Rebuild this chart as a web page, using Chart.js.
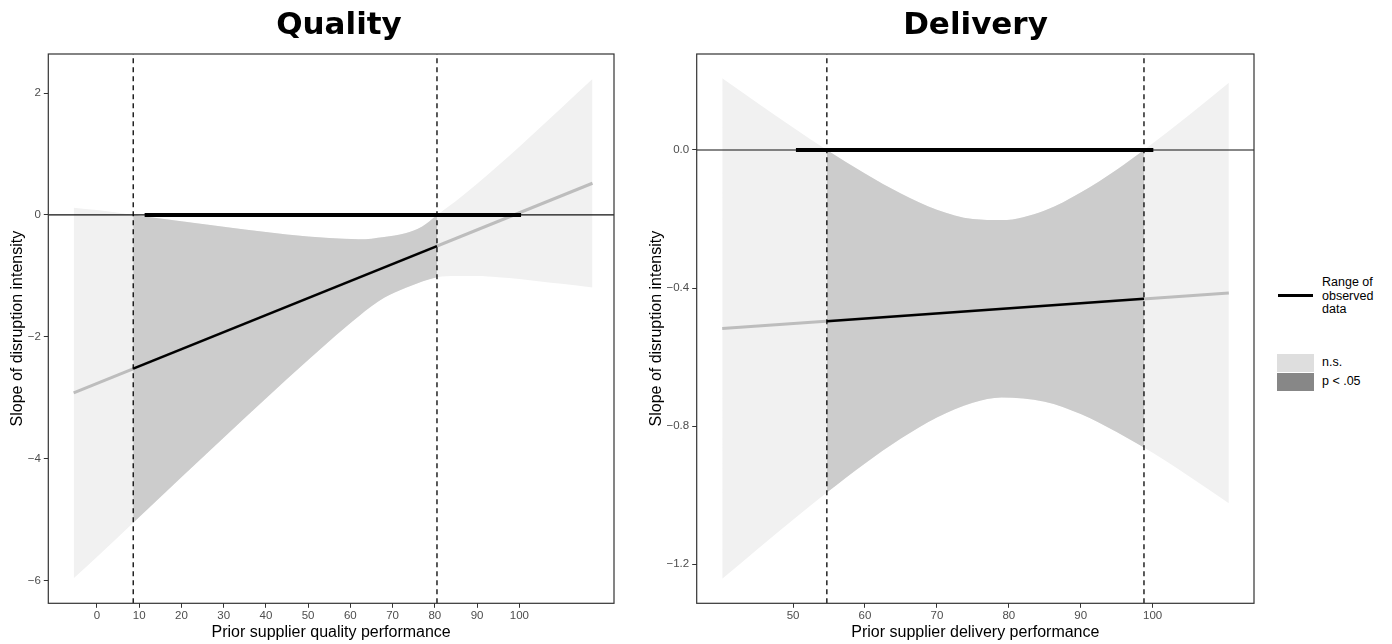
<!DOCTYPE html>
<html>
<head>
<meta charset="utf-8">
<title>Quality / Delivery</title>
<script src="https://cdn.jsdelivr.net/npm/chart.js@4.4.1/dist/chart.umd.min.js"></script>
<style>
  body { margin: 0; background: #fff; width: 1392px; height: 644px; overflow: hidden; position: relative;
         font-family: "Liberation Sans", Arial, sans-serif; }
  canvas { position: absolute; top: 0; }
  #grafico-quality { left: 0; }
  #grafico-delivery { left: 640px; }
  .titulo { position: absolute; top: 5px; width: 300px; margin-left: -150px; text-align: center;
            font: bold 31px "DejaVu Sans", Verdana, sans-serif; line-height: 37.2px; color: #000; }
  .ley { position: absolute; }
  .ley-texto { position: absolute; left: 1322px; font-size: 12.5px; line-height: 13.5px; color: #000; }
</style>
</head>
<body>
<canvas id="grafico-quality" width="630" height="644"></canvas>
<canvas id="grafico-delivery" width="630" height="644"></canvas>
<div class="titulo" style="left:339px;">Quality</div>
<div class="titulo" style="left:975.5px;">Delivery</div>

<div class="ley" style="left:1278px; top:293.5px; width:35px; height:3.5px; background:#000;"></div>
<div class="ley-texto" style="top:276px;">Range of<br>observed<br>data</div>
<div class="ley" style="left:1277px; top:354px; width:37px; height:18px; background:#dedede;"></div>
<div class="ley" style="left:1277px; top:373px; width:37px; height:18px; background:#878787;"></div>
<div class="ley-texto" style="top:356px;">n.s.</div>
<div class="ley-texto" style="top:375px;">p &lt; .05</div>

<script>
// Quality: banda de confianza
const qX     = [-5.5, 0, 8.6, 15, 25, 35, 45, 55, 62, 68, 73, 77, 80.5, 85, 90, 95, 100, 105, 110, 117.3];
const qUpper = [0.12, 0.08, 0, -0.06, -0.15, -0.24, -0.32, -0.38, -0.40, -0.36, -0.30, -0.19, 0, 0.23, 0.51, 0.81, 1.12, 1.44, 1.76, 2.23];
const qLower = [-5.96, -5.61, -5.05, -4.63, -3.98, -3.33, -2.69, -2.07, -1.66, -1.36, -1.20, -1.09, -1.02, -1.00, -1.00, -1.02, -1.05, -1.09, -1.13, -1.19];
const qFitX = [-5.5, 117.3];
const qFitY = [-2.92, 0.52];
const qJN = [8.6, 80.5];
const qSigY = [-2.52, -0.51];
const qRange = [11.3, 100.4];
const qXTicks = [0, 10, 20, 30, 40, 50, 60, 70, 80, 90, 100];
const qYTicks = [-6, -4, -2, 0, 2];
const qXLim = [-11.5, 122.4];
const qYLim = [-6.37, 2.64];

// Delivery
const dX     = [40.15, 45, 50, 54.7, 60, 65, 70, 75, 79, 85, 90, 95, 98.8, 105, 110.6];
const dUpper = [0.208, 0.137, 0.065, 0, -0.068, -0.126, -0.173, -0.200, -0.203, -0.175, -0.123, -0.057, 0, 0.100, 0.195];
const dLower = [-1.242, -1.157, -1.071, -0.992, -0.908, -0.836, -0.775, -0.732, -0.717, -0.729, -0.765, -0.817, -0.862, -0.944, -1.023];
const dFitX = [40.15, 110.6];
const dFitY = [-0.517, -0.414];
const dJN = [54.7, 98.8];
const dSigY = [-0.496, -0.431];
const dRange = [50.4, 100.1];
const dXTicks = [50, 60, 70, 80, 90, 100];
const dYTicks = [-1.2, -0.8, -0.4, 0];
const dXLim = [36.6, 114.1];
const dYLim = [-1.313, 0.278];

const FUENTE = '"Liberation Sans", Arial, sans-serif';

function pts(xs, ys) {
  return xs.map((x, i) => ({ x: x, y: ys[i] }));
}

function entre(xs, ys, lim) {
  return pts(xs, ys).filter(p => p.x >= lim[0] && p.x <= lim[1]);
}

// marco del panel (como panel.border de ggplot)
const marco = {
  id: 'marco',
  afterDatasetsDraw(chart) {
    const { ctx, chartArea: a } = chart;
    ctx.save();
    ctx.strokeStyle = '#333';
    ctx.lineWidth = 1.2;
    ctx.strokeRect(a.left, a.top, a.right - a.left, a.bottom - a.top);
    ctx.restore();
  }
};

function crearPanel(id, p) {
  const sinBorde = 'rgba(0,0,0,0)';
  const datasets = [
    { data: pts(p.x, p.upper), fill: '+1', backgroundColor: '#f1f1f1', borderColor: sinBorde, borderWidth: 0, cubicInterpolationMode: 'monotone', order: 10 },
    { data: pts(p.x, p.lower), fill: false, borderColor: sinBorde, borderWidth: 0, cubicInterpolationMode: 'monotone', order: 10 },
    { data: entre(p.x, p.upper, p.jn), fill: '+1', backgroundColor: '#cccccc', borderColor: sinBorde, borderWidth: 0, cubicInterpolationMode: 'monotone', order: 9 },
    { data: entre(p.x, p.lower, p.jn), fill: false, borderColor: sinBorde, borderWidth: 0, cubicInterpolationMode: 'monotone', order: 9 },
    { data: pts(p.fitX, p.fitY), borderColor: '#bdbdbd', borderWidth: 3, order: 8 },
    { data: pts(p.jn, p.sigY), borderColor: '#000', borderWidth: 2.5, order: 7 },
    { data: pts(p.xLim, [0, 0]), borderColor: '#111', borderWidth: 1.2, order: 6 },
    { data: pts(p.range, [0, 0]), borderColor: '#000', borderWidth: 4, order: 5 },
    { data: pts([p.jn[0], p.jn[0]], p.yLim), borderColor: '#000', borderWidth: 1.3, borderDash: [5, 4], order: 4 },
    { data: pts([p.jn[1], p.jn[1]], p.yLim), borderColor: '#000', borderWidth: 1.3, borderDash: [5, 4], order: 4 }
  ];

  const etiqueta = v => (v < 0 ? '\u2212' : '') + Math.abs(v).toFixed(p.decimales);

  return new Chart(document.getElementById(id), {
    type: 'line',
    data: { datasets: datasets },
    options: {
      responsive: false,
      animation: false,
      events: [],
      devicePixelRatio: 1,
      layout: { padding: { left: 0, right: 16, top: 54, bottom: 0 } },
      elements: { point: { radius: 0 } },
      plugins: {
        legend: { display: false },
        tooltip: { enabled: false }
      },
      scales: {
        x: {
          type: 'linear',
          min: p.xLim[0],
          max: p.xLim[1],
          afterBuildTicks: s => { s.ticks = p.xTicks.map(v => ({ value: v })); },
          afterFit: s => { s.height = 40.7; },
          border: { display: false },
          grid: { drawOnChartArea: false, drawTicks: true, tickLength: 4.5, color: '#333' },
          ticks: { color: '#4d4d4d', font: { family: FUENTE, size: 11.5 }, padding: 1.5, maxRotation: 0, autoSkip: false },
          title: { display: true, text: p.xTitulo, color: '#000', font: { family: FUENTE, size: 16 }, padding: { top: 0, bottom: 1.4 } }
        },
        y: {
          type: 'linear',
          min: p.yLim[0],
          max: p.yLim[1],
          afterBuildTicks: s => { s.ticks = p.yTicks.map(v => ({ value: v })); },
          afterFit: s => { s.width = p.anchoY; },
          border: { display: false },
          grid: { drawOnChartArea: false, drawTicks: true, tickLength: 4.5, color: '#333' },
          ticks: { color: '#4d4d4d', font: { family: FUENTE, size: 11.5 }, padding: 3, autoSkip: false, callback: etiqueta },
          title: { display: true, text: 'Slope of disruption intensity', color: '#000', font: { family: FUENTE, size: 16 }, padding: { top: p.padTituloY, bottom: 0 } }
        }
      }
    },
    plugins: [marco]
  });
}

window.onload = () => {
  crearPanel('grafico-quality', {
    xTitulo: 'Prior supplier quality performance',
    x: qX, upper: qUpper, lower: qLower, fitX: qFitX, fitY: qFitY, jn: qJN, sigY: qSigY, range: qRange,
    xTicks: qXTicks, yTicks: qYTicks, xLim: qXLim, yLim: qYLim, decimales: 0, anchoY: 48.3, padTituloY: 7.9
  });
  crearPanel('grafico-delivery', {
    xTitulo: 'Prior supplier delivery performance',
    x: dX, upper: dUpper, lower: dLower, fitX: dFitX, fitY: dFitY, jn: dJN, sigY: dSigY, range: dRange,
    xTicks: dXTicks, yTicks: dYTicks, xLim: dXLim, yLim: dYLim, decimales: 1, anchoY: 56.7, padTituloY: 7.4
  });
};
</script>
</body>
</html>
